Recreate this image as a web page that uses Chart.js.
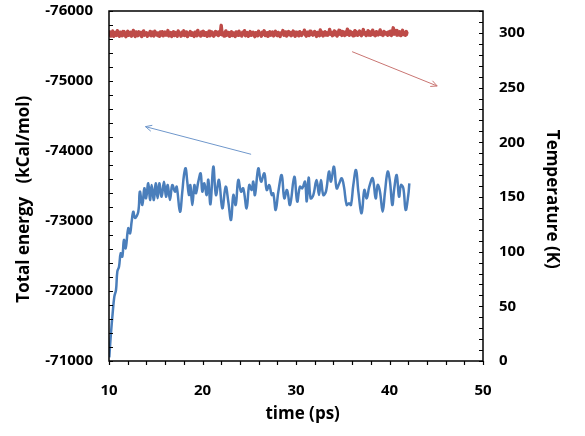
<!DOCTYPE html>
<html><head><meta charset="utf-8">
<script src="https://cdn.jsdelivr.net/npm/chart.js@4.4.1/dist/chart.umd.min.js"></script>
<style>html,body{margin:0;padding:0;background:#fff;}</style>
</head><body>
<canvas id="c" width="585" height="436"></canvas>
<script>
// ---- data ----
const timeTicks = [10, 20, 30, 40, 50];
const energyTicks = [-76000, -75000, -74000, -73000, -72000, -71000];
const tempTicks = [0, 50, 100, 150, 200, 250, 300];

const energyTime = [
  10.03,10.21,10.39,10.57,10.75,10.89,11.07,11.25,11.42,11.6,11.78,12.06,12.25,12.42,12.6,12.78,13.13,13.3,13.56,13.78,
  13.96,14.2,14.39,14.56,14.8,14.99,15.2,15.38,15.63,15.88,16.1,16.28,16.52,16.77,17.06,17.24,17.59,17.84,18.02,18.2,
  18.37,18.56,18.7,18.91,19.13,19.3,19.55,19.8,19.98,20.19,20.45,20.62,20.85,21.16,21.44,21.76,22.12,22.48,22.76,23.05,
  23.3,23.55,23.83,24.12,24.36,24.72,25.0,25.26,25.43,25.61,25.97,26.26,26.61,26.87,27.14,27.4,27.57,27.83,28.11,28.47,
  28.75,29.04,29.36,29.82,30.13,30.42,30.67,30.96,31.15,31.35,31.57,31.85,32.2,32.46,32.67,32.92,33.2,33.53,33.74,34.06,
  34.35,34.63,34.89,35.13,35.42,35.67,35.88,36.13,36.42,36.67,37.02,37.31,37.56,37.84,38.2,38.52,38.74,38.98,39.27,39.52,
  39.81,40.05,40.3,40.51,40.77,41.02,41.23,41.48,41.73,42.01,42.12
];
const energyValues = [
  -71053,-71396,-71681,-71919,-72014,-72276,-72347,-72539,-72490,-72729,-72610,-72896,-72824,-72990,-73133,-73043,-73133,-73419,-73229,-73467,
  -73324,-73539,-73300,-73514,-73300,-73539,-73324,-73539,-73347,-73562,-73347,-73514,-73300,-73514,-73419,-73490,-73133,-73419,-73657,-73753,
  -73562,-73371,-73514,-73229,-73514,-73396,-73562,-73681,-73419,-73539,-73371,-73590,-73240,-73776,-73371,-73586,-73181,-73490,-73276,-73014,
  -73371,-73229,-73586,-73419,-73467,-73181,-73514,-73443,-73562,-73371,-73753,-73562,-73681,-73443,-73514,-73371,-73396,-73157,-73419,-73657,
  -73324,-73443,-73229,-73633,-73276,-73490,-73467,-73562,-73280,-73620,-73324,-73371,-73586,-73371,-73586,-73371,-73419,-73705,-73562,-73776,
  -73467,-73539,-73610,-73490,-73229,-73253,-73229,-73514,-73729,-73419,-73110,-73443,-73324,-73490,-73610,-73324,-73514,-73419,-73133,-73419,
  -73705,-73562,-73229,-73467,-73657,-73347,-73514,-73467,-73157,-73371,-73539
];

const tempStart = 10;
const tempStep = 0.1;
const tempValues = [
  298.2,300.9,297.1,299.4,301.6,296.8,298.9,300.3,297.6,302.0,
  298.4,296.9,300.7,299.1,297.3,301.2,298.0,300.0,296.5,299.8,
  301.4,297.8,298.6,300.5,297.0,299.3,302.2,298.1,296.7,300.8,
  299.0,297.5,301.0,298.3,300.4,296.6,299.7,301.8,297.9,298.8,
  300.1,296.9,299.5,298.2,301.3,297.4,300.6,298.9,297.1,301.5,
  298.5,300.2,297.7,299.9,296.8,300.9,298.0,301.1,297.3,299.2,
  300.7,297.9,298.7,302.1,297.2,299.6,300.4,296.7,299.0,301.0,
  297.6,300.3,298.4,296.9,301.7,298.6,299.8,297.0,300.5,298.1,
  301.9,297.5,299.3,300.8,296.6,299.7,298.3,301.2,297.8,300.0,
  298.9,296.8,300.6,299.1,297.4,302.3,298.2,299.5,297.1,300.9,
  298.0,301.4,297.7,299.9,300.2,296.9,298.6,301.6,297.3,299.4,
  300.8,298.1,297.0,299.8,301.3,298.4,300.5,297.6,301.0,298.8,
  306.9,298.3,300.1,297.2,299.6,301.8,297.9,298.7,300.4,296.8,
  299.3,301.1,297.5,300.0,298.5,296.7,300.9,299.2,297.8,301.5,
  298.2,299.9,297.1,300.6,298.9,302.0,297.4,299.0,300.3,296.9,
  298.6,301.2,297.7,299.4,300.7,298.0,296.6,300.2,299.1,297.3,
  301.6,298.4,299.8,297.0,300.5,298.7,301.9,297.6,299.5,300.1,
  296.8,299.2,301.0,297.9,298.3,300.8,297.2,299.7,301.4,298.1,
  297.5,300.4,298.8,296.7,300.0,299.3,302.1,297.8,298.6,300.9,
  297.1,299.6,301.2,298.2,300.3,297.4,299.0,301.7,298.5,296.9,
  300.6,298.0,299.9,297.3,301.1,298.9,297.7,300.2,299.4,302.4,
  298.3,297.0,300.7,299.1,297.6,301.5,298.6,300.0,297.9,299.8,
  301.3,298.4,296.8,300.4,299.2,297.5,302.6,298.1,300.8,297.2,
  299.7,301.0,298.0,300.1,297.8,299.3,303.1,298.7,300.5,297.4,
  299.0,301.8,298.2,300.6,297.1,299.5,302.3,298.8,300.0,297.7,
  301.2,299.1,297.6,300.9,298.4,303.4,299.6,297.9,301.4,298.5,
  300.3,297.3,299.9,302.0,298.1,300.7,297.8,299.4,301.6,298.6,
  297.5,300.2,303.0,298.9,300.4,297.6,299.7,301.9,298.0,300.8,
  297.9,299.2,302.5,298.3,300.6,297.4,301.1,299.5,298.2,300.0,
  302.7,298.6,299.8,297.7,301.3,298.9,300.4,299.3,297.8,300.9,
  298.4,301.5,297.6,300.2,304.6,298.8,299.9,302.2,297.9,300.6,
  298.2,301.0,297.5,299.7,302.4,298.5,300.3,297.8,301.2,299.0,
  298.9
];

// ---- styling / annotation settings ----
const FONT = '"Open Sans", Lato, "DejaVu Sans", sans-serif';
const BLUE = '#4A7EBB';
const RED = '#BE4B48';
const arrows = [
  { from: [36.0, -75419], to: [45.1, -74929], color: '#C97572' },
  { from: [25.2, -73953], to: [13.9, -74348], color: '#6F97CB' }
];

const boxAndTicks = {
  id: 'boxAndTicks',
  afterDatasetsDraw(chart) {
    const { ctx, chartArea: a, scales } = chart;
    ctx.save();
    ctx.strokeStyle = '#000';
    ctx.lineWidth = 1.5;
    ctx.strokeRect(a.left, a.top, a.right - a.left, a.bottom - a.top);
    ctx.lineWidth = 1.2;
    ctx.beginPath();
    const L = 4;
    for (let v = -76000; v <= -71000; v += 200) {
      const y = Math.round(scales.y.getPixelForValue(v)) + 0.5;
      ctx.moveTo(a.left, y); ctx.lineTo(a.left + L, y);
    }
    for (let v = 0; v <= 320; v += 10) {
      const y = Math.round(scales.y2.getPixelForValue(v)) + 0.5;
      ctx.moveTo(a.right, y); ctx.lineTo(a.right - L, y);
    }
    for (let v = 10; v <= 50; v += 2) {
      const x = Math.round(scales.x.getPixelForValue(v)) + 0.5;
      ctx.moveTo(x, a.bottom); ctx.lineTo(x, a.bottom + L);
    }
    ctx.stroke();
    for (const ar of arrows) {
      const x1 = scales.x.getPixelForValue(ar.from[0]), y1 = scales.y.getPixelForValue(ar.from[1]);
      const x2 = scales.x.getPixelForValue(ar.to[0]), y2 = scales.y.getPixelForValue(ar.to[1]);
      ctx.strokeStyle = ar.color;
      ctx.lineWidth = 1;
      ctx.beginPath();
      ctx.moveTo(x1, y1); ctx.lineTo(x2, y2);
      const ang = Math.atan2(y2 - y1, x2 - x1), h = 7;
      ctx.moveTo(x2 - h * Math.cos(ang - 0.45), y2 - h * Math.sin(ang - 0.45));
      ctx.lineTo(x2, y2);
      ctx.lineTo(x2 - h * Math.cos(ang + 0.45), y2 - h * Math.sin(ang + 0.45));
      ctx.stroke();
    }
    ctx.restore();
  }
};

const tickFont = { family: FONT, size: 15, weight: 'bold' };
const titleFont = { family: FONT, size: 17, weight: 'bold', lineHeight: 1.2 };
const plain = v => String(v);
const fitV = w => s => { s.width = w; s.paddingTop = 0; s.paddingBottom = 0; };

new Chart(document.getElementById('c'), {
  type: 'line',
  data: {
    datasets: [
      {
        label: 'Total energy',
        data: energyTime.map((t, i) => ({ x: t, y: energyValues[i] })),
        yAxisID: 'y',
        borderColor: BLUE,
        borderWidth: 2.5,
        borderJoinStyle: 'round',
        pointRadius: 0,
        tension: 0.4,
        fill: false
      },
      {
        label: 'Temperature',
        data: tempValues.map((v, i) => ({ x: tempStart + i * tempStep, y: v })),
        yAxisID: 'y2',
        borderColor: RED,
        borderWidth: 3.4,
        borderJoinStyle: 'round',
        pointRadius: 0,
        tension: 0,
        fill: false
      }
    ]
  },
  options: {
    responsive: false,
    animation: false,
    layout: { padding: { top: 11, left: 0, right: 0, bottom: 0 } },
    plugins: { legend: { display: false }, tooltip: { enabled: false } },
    scales: {
      x: {
        type: 'linear', position: 'bottom', min: 10, max: 50,
        afterBuildTicks: s => { s.ticks = timeTicks.map(v => ({ value: v })); },
        afterFit: s => { s.height = 75; s.paddingLeft = 0; s.paddingRight = 0; },
        ticks: { font: tickFont, color: '#000', padding: 21, maxRotation: 0, callback: plain },
        grid: { display: false, drawTicks: false },
        border: { display: false },
        title: { display: true, text: '   time (ps)', font: titleFont, color: '#000', padding: { top: 0, bottom: 12 } }
      },
      y: {
        type: 'linear', position: 'left', min: -76000, max: -71000, reverse: true,
        afterBuildTicks: s => { s.ticks = energyTicks.map(v => ({ value: v })); },
        afterFit: fitV(109),
        ticks: { font: tickFont, color: '#000', padding: 16, callback: plain },
        grid: { display: false, drawTicks: false },
        border: { display: false },
        title: { display: true, text: 'Total energy   (kCal/mol)      ', font: titleFont, color: '#000', padding: { top: 14, bottom: 0 } }
      },
      y2: {
        type: 'linear', position: 'right', min: 0, max: 320,
        afterBuildTicks: s => { s.ticks = tempTicks.map(v => ({ value: v })); },
        afterFit: fitV(102),
        ticks: { font: tickFont, color: '#000', padding: 16, callback: plain },
        grid: { display: false, drawTicks: false },
        border: { display: false },
        title: { display: true, text: '      Temperature (K)', font: titleFont, color: '#000', padding: { top: 23, bottom: 0 } }
      }
    }
  },
  plugins: [boxAndTicks]
});
</script>
</body></html>
